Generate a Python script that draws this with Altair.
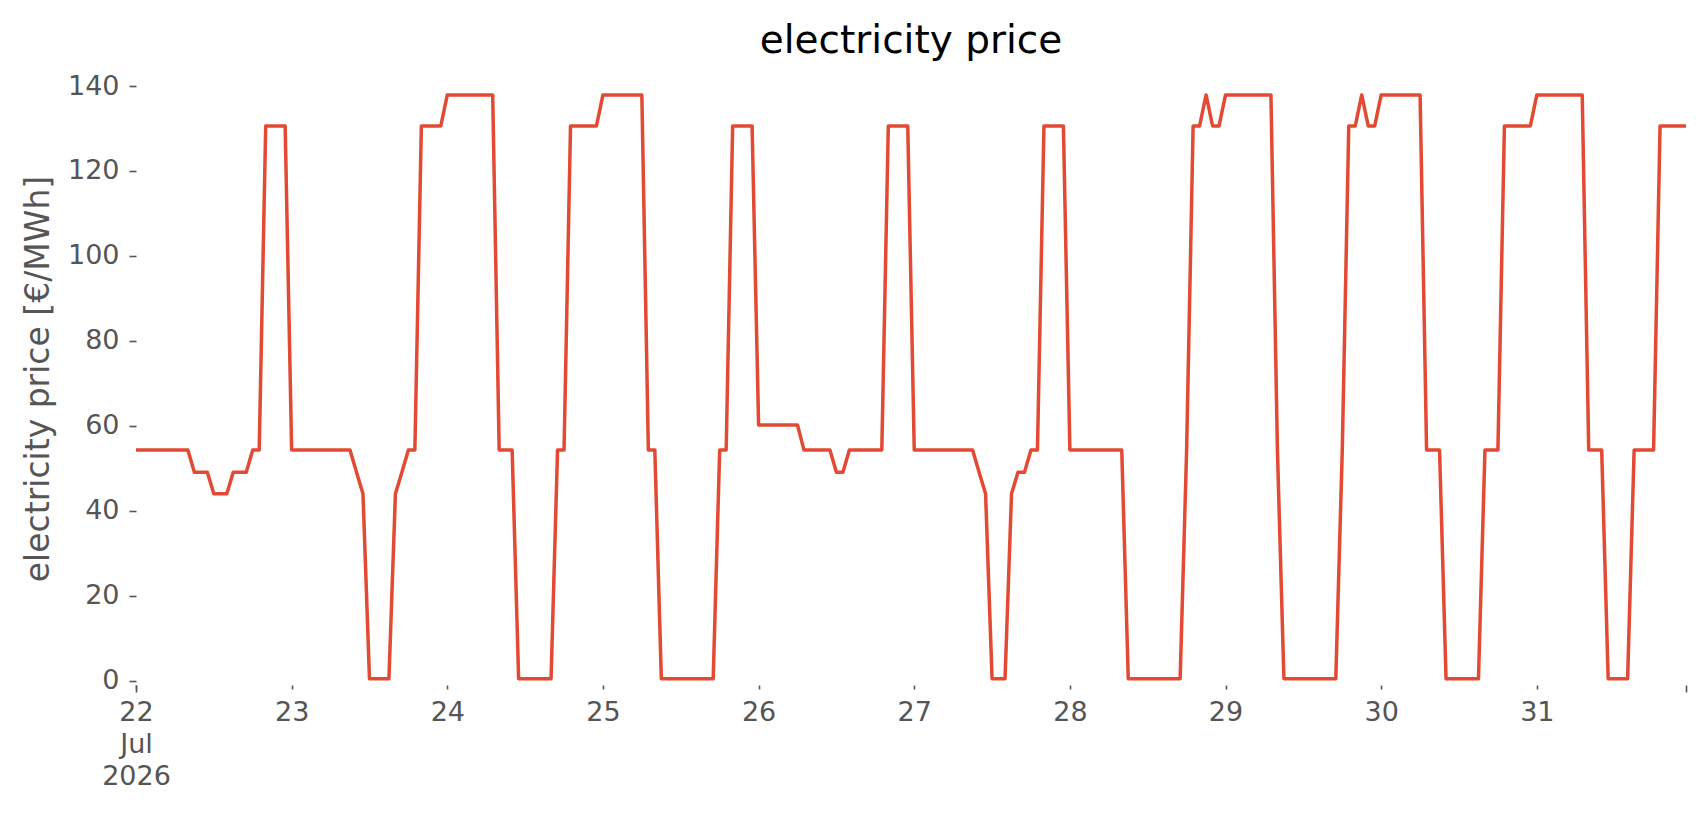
import altair as alt
import pandas as pd

# hourly electricity price [€/MWh], one list per day (00:00 .. 23:00)
jul22 = [54.3, 54.3, 54.3, 54.3, 54.3, 54.3, 54.3, 54.3, 54.3, 49.1, 49.1, 49.1,
         44.0, 44.0, 44.0, 49.1, 49.1, 49.1, 54.3, 54.3, 130.6, 130.6, 130.6, 130.6]
jul23 = [54.3, 54.3, 54.3, 54.3, 54.3, 54.3, 54.3, 54.3, 54.3, 54.3, 49.1, 44.0,
         0.5, 0.5, 0.5, 0.5, 44.0, 49.1, 54.3, 54.3, 130.6, 130.6, 130.6, 130.6]
jul24 = [137.9, 137.9, 137.9, 137.9, 137.9, 137.9, 137.9, 137.9, 54.3, 54.3, 54.3, 0.5,
         0.5, 0.5, 0.5, 0.5, 0.5, 54.3, 54.3, 130.6, 130.6, 130.6, 130.6, 130.6]
jul25 = [137.9, 137.9, 137.9, 137.9, 137.9, 137.9, 137.9, 54.3, 54.3, 0.5, 0.5, 0.5,
         0.5, 0.5, 0.5, 0.5, 0.5, 0.5, 54.3, 54.3, 130.6, 130.6, 130.6, 130.6]
jul26 = [60.2, 60.2, 60.2, 60.2, 60.2, 60.2, 60.2, 54.3, 54.3, 54.3, 54.3, 54.3,
         49.1, 49.1, 54.3, 54.3, 54.3, 54.3, 54.3, 54.3, 130.6, 130.6, 130.6, 130.6]
jul27 = [54.3, 54.3, 54.3, 54.3, 54.3, 54.3, 54.3, 54.3, 54.3, 54.3, 49.1, 44.0,
         0.5, 0.5, 0.5, 44.0, 49.1, 49.1, 54.3, 54.3, 130.6, 130.6, 130.6, 130.6]
jul28 = [54.3, 54.3, 54.3, 54.3, 54.3, 54.3, 54.3, 54.3, 54.3, 0.5, 0.5, 0.5,
         0.5, 0.5, 0.5, 0.5, 0.5, 0.5, 54.3, 130.6, 130.6, 137.9, 130.6, 130.6]
jul29 = [137.9, 137.9, 137.9, 137.9, 137.9, 137.9, 137.9, 137.9, 54.3, 0.5, 0.5, 0.5,
         0.5, 0.5, 0.5, 0.5, 0.5, 0.5, 54.3, 130.6, 130.6, 137.9, 130.6, 130.6]
jul30 = [137.9, 137.9, 137.9, 137.9, 137.9, 137.9, 137.9, 54.3, 54.3, 54.3, 0.5, 0.5,
         0.5, 0.5, 0.5, 0.5, 54.3, 54.3, 54.3, 130.6, 130.6, 130.6, 130.6, 130.6]
jul31 = [137.9, 137.9, 137.9, 137.9, 137.9, 137.9, 137.9, 137.9, 54.3, 54.3, 54.3, 0.5,
         0.5, 0.5, 0.5, 54.3, 54.3, 54.3, 54.3, 130.6, 130.6, 130.6, 130.6, 130.6]

days = [22, 23, 24, 25, 26, 27, 28, 29, 30, 31]
month_label = "Jul"
year_label = "2026"
y_ticks = [0, 20, 40, 60, 80, 100, 120, 140]

prices = jul22 + jul23 + jul24 + jul25 + jul26 + jul27 + jul28 + jul29 + jul30 + jul31
times = pd.date_range("2026-07-22 00:00", periods=len(prices), freq="h")
df = pd.DataFrame({
    "time": times.strftime("%Y-%m-%dT%H:%M:%SZ"),
    "price": prices,
})

FONT = "DejaVu Sans"
GREY = "#555555"
RED = "#E24A33"

day_ticks = [alt.DateTime(year=2026, month=7, date=d, utc=True) for d in days]
end_ticks = [alt.DateTime(year=2026, month=7, date=days[0], utc=True),
             alt.DateTime(year=2026, month=7, date=days[-1], hours=23, utc=True)]

label_expr = (
    f"utcdate(datum.value) == {days[0]} ? "
    f"['{days[0]}', '{month_label}', '{year_label}'] : utcFormat(datum.value, '%d')"
)

x_scale = alt.Scale(type="utc", domain=[df["time"].iloc[0], df["time"].iloc[-1]], nice=False)
y_scale = alt.Scale(domain=[-1.0, 143.3], nice=False, zero=False)

y_axis = alt.Axis(
    values=y_ticks, title="electricity price [€/MWh]", grid=False, domain=False,
    tickSize=7, tickWidth=1.6, tickColor=GREY,
    labelFont=FONT, labelFontSize=27, labelColor=GREY, labelPadding=10,
    titleFont=FONT, titleFontSize=33, titleColor=GREY, titleFontWeight="normal",
    titlePadding=12,
)

line = alt.Chart(df).mark_line(
    color=RED, strokeWidth=3.5, strokeJoin="round", strokeCap="butt"
).encode(
    x=alt.X("time:T", scale=x_scale, axis=alt.Axis(
        orient="bottom",
        values=day_ticks, labelExpr=label_expr, title=None, grid=False, domain=False,
        tickSize=4, tickWidth=1.6, tickColor=GREY,
        labelFont=FONT, labelFontSize=27, labelColor=GREY, labelPadding=10,
        labelLineHeight=32, labelOverlap=False, labelFlush=False, labelBound=False,
    )),
    y=alt.Y("price:Q", scale=y_scale, axis=y_axis),
)

major = alt.Chart(df).mark_line(opacity=0).encode(
    x=alt.X("time:T", scale=x_scale, axis=alt.Axis(
        orient="bottom",
        values=end_ticks, labels=False, title=None, grid=False, domain=False,
        tickSize=7, tickWidth=1.6, tickColor=GREY,
    )),
    y=alt.Y("price:Q", scale=y_scale, axis=y_axis),
)

chart = alt.layer(line, major).resolve_axis(x="independent").properties(
    width=1550,
    height=613,
    background="white",
    autosize=alt.AutoSizeParams(type="none"),
    padding={"left": 128, "top": 64, "right": 10, "bottom": 110},
    title=alt.TitleParams(
        "electricity price", font=FONT, fontSize=39, fontWeight="normal",
        color="#000000", anchor="middle", offset=11,
    ),
).configure_view(strokeWidth=0, stroke="transparent")

chart.save("out.html", embed_options={"renderer": "svg", "actions": False})
